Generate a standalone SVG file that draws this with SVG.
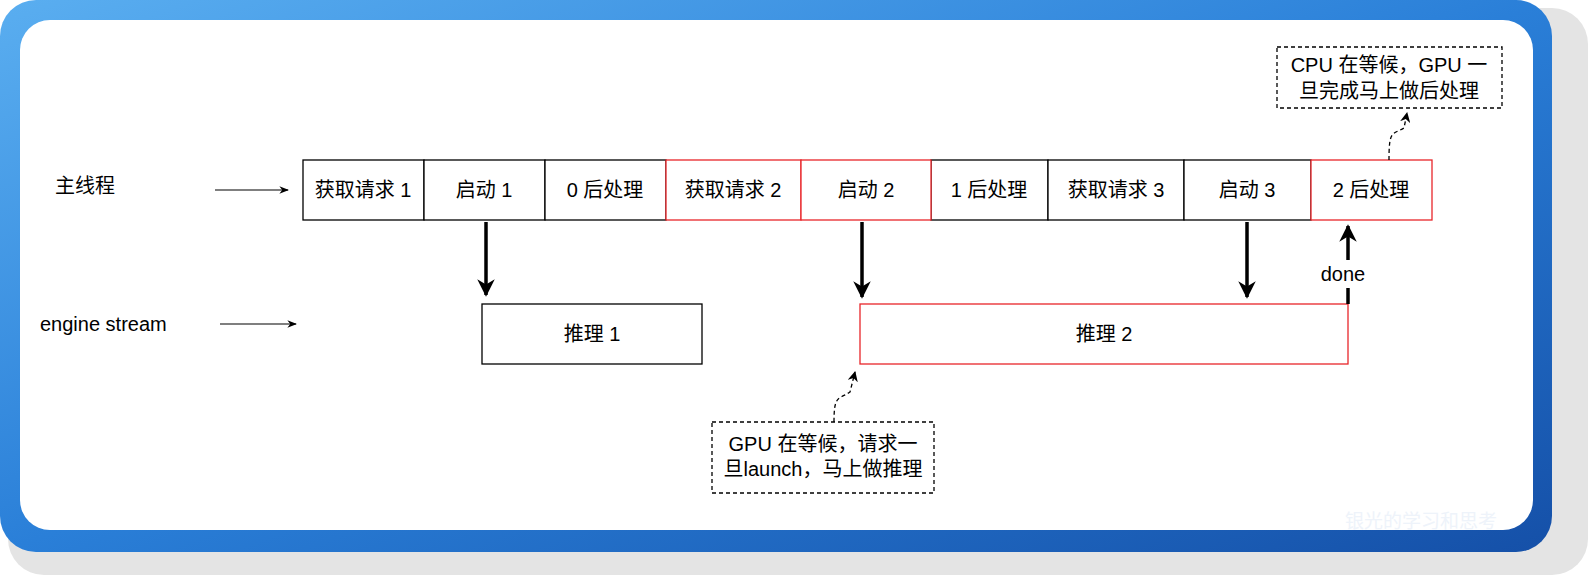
<svg xmlns="http://www.w3.org/2000/svg" width="1588" height="575" viewBox="0 0 1588 575">
<defs>
<linearGradient id="bg" x1="0" y1="0" x2="1" y2="1">
<stop offset="0" stop-color="#5aaef0"/><stop offset="0.5" stop-color="#2a7fd8"/><stop offset="1" stop-color="#1550a8"/>
</linearGradient>
<marker id="big" viewBox="0 0 10 10" refX="9" refY="5" markerWidth="5" markerHeight="5" orient="auto" markerUnits="strokeWidth"><path d="M0,0 L10,5 L0,10 L3,5 Z" fill="#000"/></marker>
<marker id="thin" viewBox="0 0 10 10" refX="9" refY="5" markerWidth="8" markerHeight="8" orient="auto" markerUnits="strokeWidth"><path d="M0,1 L10,5 L0,9 L3,5 Z" fill="#000"/></marker>
<marker id="dash" viewBox="0 0 10 10" refX="9" refY="5" markerWidth="8" markerHeight="8" orient="auto" markerUnits="strokeWidth"><path d="M0,0 L10,5 L0,10 L3,5 Z" fill="#000"/></marker>
</defs>
<style>
text{font-family:"Liberation Sans","Noto Sans CJK SC",sans-serif;font-size:20px;fill:#000}
.c{text-anchor:middle;dominant-baseline:central}
.b{fill:#fff;stroke:#000;stroke-width:1.3}
.r{fill:#fff;stroke:#e8262a;stroke-width:1.3}
.n{fill:#fff;stroke:#000;stroke-width:1.3;stroke-dasharray:4 3}
.a{stroke:#000;stroke-width:3.5;fill:none}
</style>
<rect x="8" y="8" width="1580" height="567" rx="36" fill="#e4e4e4"/>
<rect x="0" y="0" width="1552" height="552" rx="36" fill="url(#bg)"/>
<rect x="20" y="20" width="1513" height="510" rx="30" fill="#fff"/>
<text x="1345" y="528" style="fill:#eef3fa;font-size:19px">银光的学习和思考</text>
<text x="55" y="193">主线程</text>
<text x="40" y="331">engine stream</text>
<g id="main">
<g id="n1"><rect class="b" x="303" y="160" width="121" height="60"/><text class="c" x="363" y="190">获取请求 1</text></g>
<g id="n2"><rect class="b" x="424" y="160" width="121" height="60"/><text class="c" x="484" y="190">启动 1</text></g>
<g id="n3"><rect class="b" x="545" y="160" width="121" height="60"/><text class="c" x="605" y="190">0 后处理</text></g>
<g id="n6"><rect class="b" x="931" y="160" width="117" height="60"/><text class="c" x="989" y="190">1 后处理</text></g>
<g id="n7"><rect class="b" x="1048" y="160" width="136" height="60"/><text class="c" x="1116" y="190">获取请求 3</text></g>
<g id="n8"><rect class="b" x="1184" y="160" width="127" height="60"/><text class="c" x="1247" y="190">启动 3</text></g>
<g id="n4"><rect class="r" x="666" y="160" width="135" height="60"/><text class="c" x="733" y="190">获取请求 2</text></g>
<g id="n5"><rect class="r" x="801" y="160" width="130" height="60"/><text class="c" x="866" y="190">启动 2</text></g>
<g id="n9"><rect class="r" x="1311" y="160" width="121" height="60"/><text class="c" x="1371" y="190">2 后处理</text></g>
</g>
<g id="inf1"><rect class="b" x="482" y="304" width="220" height="60"/><text class="c" x="592" y="334">推理 1</text></g>
<g id="inf2"><rect class="r" x="860" y="304" width="488" height="60"/><text class="c" x="1104" y="334">推理 2</text></g>
<g id="note1"><rect class="n" x="1277" y="47" width="225" height="61"/><text class="c" x="1389" y="65">CPU 在等候，GPU 一</text><text class="c" x="1389" y="91">旦完成马上做后处理</text></g>
<g id="note2"><rect class="n" x="712" y="422" width="222" height="71"/><text class="c" x="823" y="444">GPU 在等候，请求一</text><text class="c" x="823" y="469">旦launch，马上做推理</text></g>
<g id="connectors">
<line x1="215" y1="190" x2="288" y2="190" stroke="#000" stroke-width="1.2" marker-end="url(#thin)"/>
<line x1="220" y1="324" x2="296" y2="324" stroke="#000" stroke-width="1.2" marker-end="url(#thin)"/>
<line class="a" x1="486" y1="222" x2="486" y2="295" marker-end="url(#big)"/>
<line class="a" x1="862" y1="222" x2="862" y2="297" marker-end="url(#big)"/>
<line class="a" x1="1247" y1="222" x2="1247" y2="297" marker-end="url(#big)"/>
<line class="a" x1="1348" y1="304" x2="1348" y2="288"/>
<line class="a" x1="1348" y1="260" x2="1348" y2="226" marker-end="url(#big)"/>
<text class="c" x="1343" y="274">done</text>
<path d="M1389,160 C1389,130 1392,135 1404,128 L1407,113" fill="none" stroke="#000" stroke-width="1.3" stroke-dasharray="4 3" marker-end="url(#dash)"/>
<path d="M834,422 C834,395 838,400 850,392 L855,372" fill="none" stroke="#000" stroke-width="1.3" stroke-dasharray="4 3" marker-end="url(#dash)"/>
</g>
</svg>
